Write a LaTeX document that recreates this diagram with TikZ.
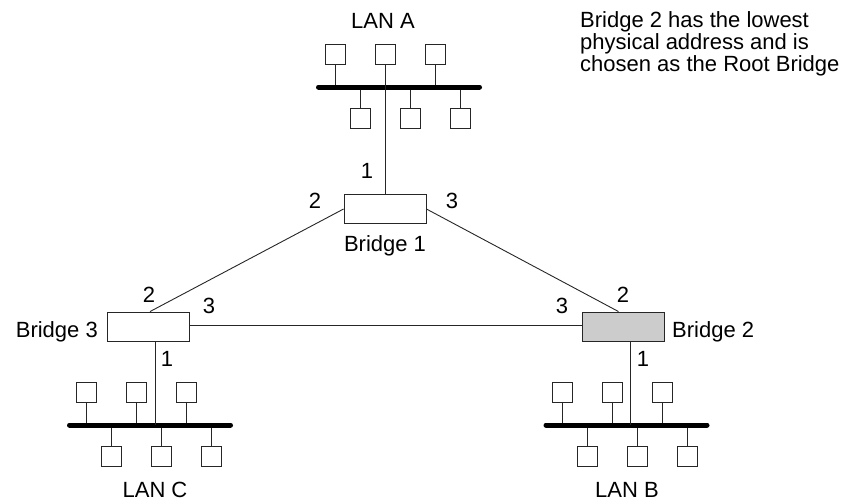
\documentclass[tikz,border=0pt]{standalone}
\usepackage{fontspec}
\setmainfont{Liberation Sans}
\begin{document}
\begin{tikzpicture}[x=1pt,y=-1pt,
  every node/.style={font=\fontsize{22}{22}\selectfont},
  wire/.style={draw=black!85, line width=0.9pt},
  bus/.style={draw=black, line width=5pt, line cap=round},
  station/.style={draw=black!85, line width=0.9pt, minimum width=20pt, minimum height=20pt, inner sep=0pt, fill=white},
  bridgebox/.style={draw=black!85, line width=0.9pt, minimum width=82pt, minimum height=29pt, inner sep=0pt, fill=white},
  rootbox/.style={bridgebox, fill=black!20},
  lbl/.style={anchor=base, inner sep=0pt}]
\useasboundingbox (0,0) rectangle (846,501);

% LANs: name / bar centre x / bar y
\foreach \n/\cx/\by in {a/399/87, c/150/425, b/626.5/425}{
  \coordinate (\n-l) at (\cx-80.5,\by);
  \coordinate (\n-r) at (\cx+80.5,\by);
  \foreach \i/\dx in {1/-64,2/-14,3/36}{
    \node[station] (\n-t\i) at (\cx+\dx,\by-33) {};
    \draw[wire] (\n-t\i.south) -- (\n-t\i.south |- \n-l);
  }
  \foreach \i/\dx in {1/-39,2/11,3/61}{
    \node[station] (\n-u\i) at (\cx+\dx,\by+31) {};
    \draw[wire] (\n-u\i.north) -- (\n-u\i.north |- \n-l);
  }
  \draw[bus] (\n-l) -- (\n-r);
}

% Bridges
\node[bridgebox] (b1) at (385,209) {};
\node[bridgebox] (b3) at (148,326.5) {};
\node[rootbox] (b2) at (623.5,326.5) {};

% Connectors
\draw[wire] (a-t2.south) -- (b1.north);
\draw[wire] (b1.west) -- ([xshift=2pt]b3.north);
\draw[wire] (b1.east) -- ([xshift=-5pt]b2.north);
\draw[wire] ([yshift=1.5pt]b3.east) -- ([yshift=1.5pt]b2.west);
\coordinate (cdrop) at ([xshift=7pt]b3.south |- c-l);
\coordinate (bdrop) at ([xshift=7pt]b2.south |- b-l);
\draw[wire] ([xshift=7pt]b3.south) -- (cdrop);
\draw[wire] ([xshift=7pt]b2.south) -- (bdrop);

% Labels
\node[lbl] (la) at (383,28) {LAN A};
\node[lbl] (lc) at (155,497) {LAN C};
\node[lbl] (lb) at (627,497) {LAN B};
\node[lbl] (nb1) at (385,251) {Bridge 1};
\node[anchor=base east, inner sep=0pt] (nb3) at (98,337) {Bridge 3};
\node[anchor=base west, inner sep=0pt] (nb2) at (672,337) {Bridge 2};

\node[lbl] (p11) at (367,178) {1};
\node[lbl] (p12) at (315,208) {2};
\node[lbl] (p13) at (452,208) {3};
\node[lbl] (p32) at (149,302) {2};
\node[lbl] (p33) at (209,313) {3};
\node[lbl] (p31) at (167,366) {1};
\node[lbl] (p22) at (623,302) {2};
\node[lbl] (p23) at (562,313) {3};
\node[lbl] (p21) at (643,366) {1};

\node[anchor=base west, inner sep=0pt] (note1) at (580,27) {Bridge 2 has the lowest};
\node[anchor=base west, inner sep=0pt] (note2) at (580,49) {physical address and is};
\node[anchor=base west, inner sep=0pt] (note3) at (580,71) {chosen as the Root Bridge};
\end{tikzpicture}
\end{document}
